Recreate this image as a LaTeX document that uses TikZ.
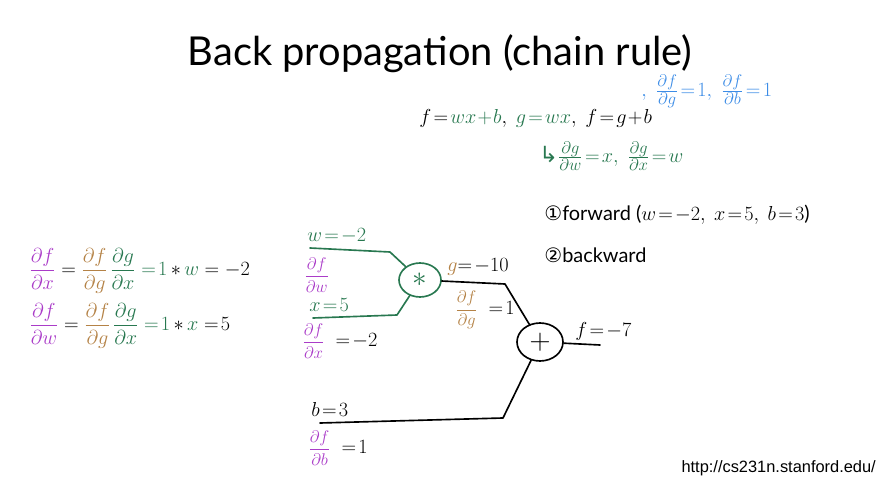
\documentclass[tikz,border=0pt]{standalone}
\usepackage{amsmath}
\usepackage{amssymb}
\usepackage{fontspec}
\setmainfont{Lato}
\newfontfamily\symfont{DejaVu Sans}
\newfontfamily\urlfont{Liberation Sans}
\usepackage{xcolor}
\usepackage{tikz}
\usetikzlibrary{arrows,shapes,backgrounds,fit}

\definecolor{hgreen}{RGB}{40,120,80}
\definecolor{hpurple}{RGB}{170,60,200}
\definecolor{hbrown}{RGB}{180,130,70}
\definecolor{hblue}{RGB}{60,140,230}

\newcommand{\handsize}{\fontsize{18}{21}\selectfont\thickmuskip=2mu\relax\medmuskip=1mu\relax}
\newcommand{\pfrac}[2]{{\fontsize{14}{14}\selectfont$\dfrac{\partial #1}{\partial #2}$}}

\begin{document}
\begin{tikzpicture}[x=0.03cm,y=-0.03cm]
		\tikzstyle{gate}=[draw, line width=1.4pt, ellipse, inner sep=0pt]
		\tikzstyle{wire}=[line width=1.4pt, line join=round, line cap=round]
		\tikzstyle{hand}=[inner sep=1pt, font=\handsize]
		\tikzstyle{val}=[hand, anchor=west]

		\useasboundingbox (0,0) rectangle (889,481);

		\node (title) at (440,54) {\fontsize{34}{40}\selectfont Back propagation (chain rule)};

		% equations at the top
		\node [val] (dfblue) at (640,91) {\fontsize{19}{22}\selectfont\color{hblue}$,\ \frac{\partial f}{\partial g}=1,\ \frac{\partial f}{\partial b}=1$};
		\node [val] (fdef) at (418,118) {$f=\textcolor{hgreen}{wx+b},\ \textcolor{hgreen}{g=wx},\ f=g+b$};
		\node [val] (dgdef) at (538,156) {\fontsize{19}{22}\selectfont\color{hgreen}{\symfont ↳}$\frac{\partial g}{\partial w}=x,\ \frac{\partial g}{\partial x}=w$};
		\node [val] (forward) at (543,215) {\fontsize{17}{20}\selectfont{\symfont ①}forward ($w=-2,\ x=5,\ b=3$)};
		\node [val] (backward) at (543,255) {\fontsize{17}{20}\selectfont{\symfont ②}backward};

		% chain rule on the left
		\node [val] (dfdx) at (28,271) {$\color{hpurple}\dfrac{\partial f}{\partial x}\color{black}\,=\,\color{hbrown}\dfrac{\partial f}{\partial g}\;\color{hgreen}\dfrac{\partial g}{\partial x}\,=1\color{black}\,{*}\,\color{hgreen}w\color{black}\,=\,-2$};
		\node [val] (dfdw) at (28,326) {$\color{hpurple}\dfrac{\partial f}{\partial w}\color{black}\,=\,\color{hbrown}\dfrac{\partial f}{\partial g}\;\color{hgreen}\dfrac{\partial g}{\partial x}\,=1\color{black}\,{*}\,\color{hgreen}x\color{black}\,=5$};

		% graph
		\node [gate, draw=hgreen, minimum width=42*0.03cm, minimum height=34*0.03cm] (mul) at (420,280) {\color{hgreen}\fontsize{34}{34}\selectfont$\ast$};
		\node [gate, minimum width=46*0.03cm, minimum height=38*0.03cm] (add) at (540,342) {\fontsize{28}{28}\selectfont$+$};

		\coordinate (w0) at (310,248);
		\coordinate (w1) at (390,252);
		\coordinate (x0) at (313,318);
		\coordinate (x1) at (397,315);
		\coordinate (g1) at (505,284);
		\coordinate (b0) at (320,423);
		\coordinate (b1) at (503,418);
		\coordinate (f1) at (600,345);

		\draw [wire, hgreen] (w0) -- (w1) -- (mul);
		\draw [wire, hgreen] (x0) -- (x1) -- (mul);
		\draw [wire] (mul) -- (g1) -- (add);
		\draw [wire] (b0) -- (b1) -- (add);
		\draw [wire] (add) -- (f1);

		\node [val] (wval) at (306,236) {\color{hgreen}$w=-2$};
		\node [val] (dfdwg) at (303,275) {\color{hpurple}\pfrac{f}{w}};
		\node [val] (xval) at (308,305) {\color{hgreen}$x=5$};
		\node [val] (dfdxg) at (301,341) {\color{hpurple}\pfrac{f}{x} \color{black}$\ =-2$};
		\node [val] (gval) at (446,267) {\color{hbrown}$g$\color{black}$=-10$};
		\node [val] (dfdgg) at (454,310) {\color{hbrown}\pfrac{f}{g} \color{black}$\ =1$};
		\node [val] (fval) at (574,331) {$f=-7$};
		\node [val] (bval) at (310,409) {$b=3$};
		\node [val] (dfdbg) at (307,448) {\color{hpurple}\pfrac{f}{b} \color{black}$\ =1$};

		\node [anchor=east, inner sep=0pt] (url) at (876,468) {\urlfont\fontsize{14}{16}\selectfont http://cs231n.stanford.edu/};
	\end{tikzpicture}
\end{document}
